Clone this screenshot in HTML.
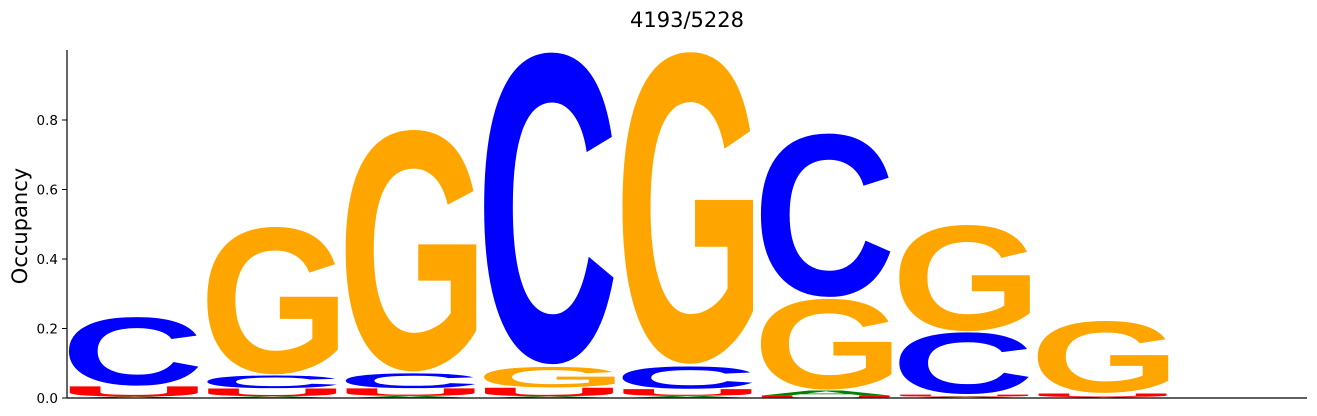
<!DOCTYPE html>
<html><head><meta charset="utf-8"><style>
body{margin:0;background:#fff;overflow:hidden;}
svg{display:block;font-family:"DejaVu Sans","Liberation Sans",sans-serif;}
</style></head><body>
<svg id="chart" width="1317" height="416" xmlns="http://www.w3.org/2000/svg">
<text x="687" y="27" text-anchor="middle" font-size="21" fill="#000">4193/5228</text>
<text transform="translate(27,226) rotate(-90)" text-anchor="middle" font-size="21" fill="#000">Occupancy</text>
<g id="marks"></g>
<g id="yaxis"></g>
<line x1="67" y1="50" x2="67" y2="398.5" stroke="#000" stroke-width="1.2"/>
<line x1="66.5" y1="398" x2="1307" y2="398" stroke="#000" stroke-width="1.2"/>
</svg>
<script>
const positions = [1,2,3,4,5,6,7,8,9];
const valA = [0.004,0.005,0.006,0.005,0.006,0.015,0.004,0.003,0];
const valC = [0.20,0.037,0.043,0.91,0.065,0.477,0.18,0.0,0];
const valG = [0.0,0.43,0.705,0.06,0.91,0.265,0.31,0.21,0];
const valU = [0.03,0.023,0.022,0.025,0.02,0.007,0.006,0.01,0];
const yTicks = [0,0.2,0.4,0.6,0.8];
const yTickLabels = ["0.0","0.2","0.4","0.6","0.8"];

const NS="http://www.w3.org/2000/svg";
const y0=398, pxPerUnit=347.5;
function yScale(v){return y0 - v*pxPerUnit;}
function xCenter(i){return 133.5 + 138.4*i;}
const letterW=133;
const colors={A:"#008000",C:"#0000ff",G:"#ffa500",U:"#ff0000"};
const FONT='bold 1000px "Liberation Sans", sans-serif';
const cv=document.createElement('canvas');
const ctx=cv.getContext('2d');
ctx.font=FONT;
const bbox={};
["A","C","G","U"].forEach(L=>{
  const m=ctx.measureText(L);
  let xmin=-m.actualBoundingBoxLeft, xmax=m.actualBoundingBoxRight;
  let ymax=m.actualBoundingBoxAscent, ymin=-m.actualBoundingBoxDescent;
  if(!(xmax>xmin)||!(ymax>ymin)){const d={A:[0,718,0,729],C:[44,677,-14,741],G:[45,726,-14,741],U:[72,650,-14,729]}[L];[xmin,xmax,ymin,ymax]=d;}
  bbox[L]=[xmin,xmax,ymin,ymax];
});
const marks=document.getElementById('marks');
positions.forEach((p,i)=>{
  const entries=[["A",valA[i]],["C",valC[i]],["G",valG[i]],["U",valU[i]]].filter(e=>e[1]>0);
  entries.sort((a,b)=>a[1]-b[1]);
  let base=0;
  entries.forEach(([L,v])=>{
    const yb=yScale(base), yt=yScale(base+v);
    const h=yb-yt;
    const b=bbox[L];
    const sx=letterW/(b[1]-b[0]);
    const sy=h/(b[3]-b[2]);
    const x0=xCenter(i)-letterW/2 - b[0]*sx;
    const by=yb + b[2]*sy;
    const t=document.createElementNS(NS,'text');
    
    
    t.setAttribute('style','font:'+FONT);
    t.setAttribute('fill',colors[L]);
    t.setAttribute('transform','translate('+x0+','+by+') scale('+sx+','+sy+')');
    t.textContent=L;
    marks.appendChild(t);
    base+=v;
  });
});
const yaxis=document.getElementById('yaxis');
yTicks.forEach((v,i)=>{
  const y=yScale(v);
  const l=document.createElementNS(NS,'line');
  
  
  l.setAttribute('x1',62);l.setAttribute('x2',67);l.setAttribute('y1',y);l.setAttribute('y2',y);
  l.setAttribute('stroke','#000');
  yaxis.appendChild(l);
  const t=document.createElementNS(NS,'text');
  
  
  t.setAttribute('x',58);t.setAttribute('y',y+5);
  t.setAttribute('text-anchor','end');t.setAttribute('font-size','13.5');
  t.textContent=yTickLabels[i];
  yaxis.appendChild(t);
});
</script>
</body></html>
